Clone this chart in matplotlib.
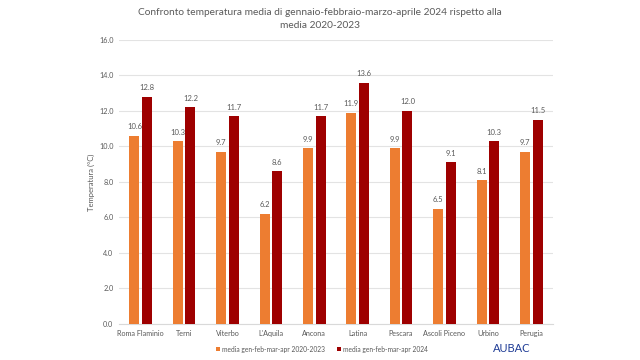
import numpy as np
import matplotlib.pyplot as plt

plt.rcParams['font.family'] = ['Lato', 'DejaVu Sans']

stazioni = ["Roma Flaminio", "Terni", "Viterbo", "L'Aquila", "Ancona", "Latina",
            "Pescara", "Ascoli Piceno", "Urbino", "Perugia"]
media_2020_2023 = [10.6, 10.3, 9.7, 6.2, 9.9, 11.9, 9.9, 6.5, 8.1, 9.7]
media_2024 = [12.8, 12.2, 11.7, 8.6, 11.7, 13.6, 12.0, 9.1, 10.3, 11.5]
yticks = [0, 2, 4, 6, 8, 10, 12, 14, 16]

grigio = "#595959"
col1 = "#ED7D31"
col2 = "#9E0000"

fig = plt.figure(figsize=(6.4, 3.6), dpi=100)
ax = fig.add_axes([0.186, 0.1, 0.678, 0.789])

x = np.arange(len(stazioni))
w = 0.23
b1 = ax.bar(x - 0.145, media_2020_2023, w, color=col1, label="media gen-feb-mar-apr 2020-2023", zorder=3)
b2 = ax.bar(x + 0.145, media_2024, w, color=col2, label="media gen-feb-mar-apr 2024", zorder=3)

for bars in (b1, b2):
    for r in bars:
        ax.annotate(f"{r.get_height():.1f}", (r.get_x() + r.get_width() / 2, r.get_height()),
                    xytext=(0, 4), textcoords="offset points", ha="center", va="bottom",
                    fontsize=5.5, color=grigio)

ax.set_xlim(-0.5, len(stazioni) - 0.5)
ax.set_ylim(0, 16)
ax.set_yticks(yticks)
ax.set_yticklabels([f"{v:.1f}" for v in yticks])
ax.set_xticks(x)
ax.set_xticklabels(stazioni)
ax.tick_params(axis="both", length=0, labelsize=5.2, colors=grigio)
ax.tick_params(axis="y", pad=4)
ax.tick_params(axis="x", pad=4)
ax.grid(axis="y", color="#E3E3E3", linewidth=0.8, zorder=0)
for s in ["top", "right", "left"]:
    ax.spines[s].set_visible(False)
ax.spines["bottom"].set_color("#D9D9D9")
ax.set_ylabel("Temperatura (°C)", fontsize=5.5, color=grigio, labelpad=3)

fig.text(0.5, 0.978, "Confronto temperatura media di gennaio-febbraio-marzo-aprile 2024 rispetto alla\nmedia 2020-2023",
         ha="center", va="top", fontsize=7.3, color=grigio, linespacing=1.6)

fig.legend(loc="center", bbox_to_anchor=(0.503, 0.03), ncol=2, frameon=False,
           fontsize=4.8, labelcolor=grigio, handlelength=0.6, handleheight=0.6,
           handletextpad=0.3, columnspacing=1.9)

fig.text(0.80, 0.033, "AUBAC", ha="center", va="center", fontsize=8, color="#1F3C96")

fig.savefig("out.png", dpi=100)
